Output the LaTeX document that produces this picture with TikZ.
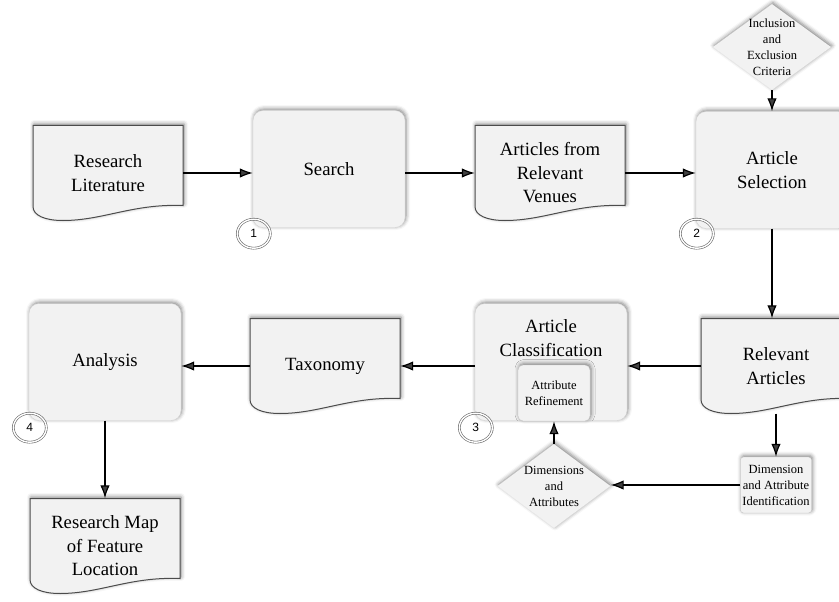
\documentclass[tikz,border=0pt]{standalone}
\usepackage{fontspec}
\setmainfont{Liberation Serif}
\setsansfont{Liberation Sans}
\usetikzlibrary{calc}
\usetikzlibrary{shapes.geometric}
\usetikzlibrary{shadows.blur}
\usetikzlibrary{arrows.meta}
\newcommand{\bigtext}{\fontsize{18.7}{23.5}\selectfont}
\newcommand{\smalltext}{\fontsize{12.5}{16}\selectfont}
\tikzstyle{softshadow}=[blur shadow={shadow xshift=1pt,shadow yshift=1.5pt,shadow blur radius=4pt,shadow opacity=50}]
\tikzstyle{process}=[rectangle, rounded corners=10pt, draw=gray!35, fill=gray!10, softshadow, minimum width=152pt, minimum height=117pt, inner sep=0pt, font=\bigtext, align=center]
\tikzstyle{doctext}=[minimum width=150pt, minimum height=95pt, inner sep=0pt, font=\bigtext, align=center]
\tikzstyle{docline}=[draw=black!70, line width=1pt, fill=gray!10, softshadow]
\tikzstyle{decision}=[diamond, fill=gray!10, softshadow, inner sep=0pt]
\tikzstyle{subtask}=[rectangle, rounded corners=5pt, draw=gray!45, fill=gray!10, softshadow, font=\smalltext, align=center, inner sep=0pt]
\tikzstyle{stepno}=[ellipse, draw=black!60, line width=0.6pt, double, double distance=1.4pt, minimum width=33pt, minimum height=29pt, inner sep=0pt, font=\sffamily\fontsize{12}{13}\selectfont]
\tikzstyle{flow}=[line width=1.2pt, -{Latex[length=13pt,width=9.5pt]}]
% document shape with a wavy bottom, then the named text node on top
\newcommand{\docnode}[4]{ % name, x, y, text
\filldraw[docline] (#2-75,#3-47.5) -- (#2+75,#3-47.5) -- (#2+75,#3+32.5)
  .. controls (#2+25,#3+30.5) and (#2-5,#3+47.5) .. (#2-45,#3+47.5)
  .. controls (#2-63,#3+47.5) and (#2-75,#3+42.5) .. (#2-75,#3+33.5) -- cycle;
\node[doctext] (#1) at (#2,#3) {#4};
}
\begin{document}
\begin{tikzpicture}[x=1pt, y=-1pt]
	\useasboundingbox (0,0) rectangle (839,602);
	% first row
	\docnode{reslit}{108}{173}{Research\\Literature}
	\node[process] (search) at (329,169) {Search};
	\docnode{venues}{550}{173}{Articles from\\Relevant\\Venues}
	\node[process] (asel) at (772,170) {Article\\Selection};
	\node[decision, minimum width=118pt, minimum height=86pt,
		label={[font=\smalltext, align=center]center:{Inclusion\\and\\Exclusion\\Criteria}}] (crit) at (772,47) {};
	% second row
	\docnode{relart}{776}{366}{Relevant\\Articles}
	\node[process] (aclass) at (551,362) {};
	\node[font=\bigtext, align=center] (aclasslbl) at (551,338) {Article\\Classification};
	\node[subtask, minimum width=72pt, minimum height=56pt] (attref) at (554,393) {Attribute\\Refinement};
	\docnode{taxo}{325}{366}{Taxonomy}
	\node[process] (anal) at (105,362) {Analysis};
	% third row
	\docnode{resmap}{105}{546}{Research Map\\of Feature\\Location}
	\node[decision, minimum width=113pt, minimum height=84pt,
		label={[font=\smalltext, align=center]center:{Dimensions\\and\\Attributes}}] (dimattr) at (554,486) {};
	\node[subtask, rounded corners=3pt, minimum width=71pt, minimum height=56pt] (ident) at (776,485) {Dimension\\and Attribute\\Identification};
	% step numbers
	\node[stepno] (s1) at ($(search.south west)+(1,6)$) {1};
	\node[stepno] (s2) at ($(asel.south west)+(1,5)$) {2};
	\node[stepno] (s3) at ($(aclass.south west)+(1,7)$) {3};
	\node[stepno] (s4) at ($(anal.south west)+(1,7)$) {4};
	% connectors
	\draw[flow] (reslit.east) -- (reslit.east -| search.west);
	\draw[flow] (search.east |- venues.west) -- (venues.west);
	\draw[flow] (venues.east) -- (venues.east -| asel.west);
	\draw[flow] (crit) -- (asel);
	\draw[flow] (asel.south) -- (asel.south |- relart.north);
	\draw[flow] (relart.west) -- (relart.west -| aclass.east);
	\draw[flow] (aclass.west |- taxo.east) -- (taxo.east);
	\draw[flow] (taxo.west) -- (taxo.west -| anal.east);
	\draw[flow] (anal) -- (resmap);
	\draw[flow] (relart) -- (ident);
	\draw[flow] (ident.west) -- (ident.west -| dimattr.east);
	\draw[flow] (dimattr) -- (attref);
\end{tikzpicture}
\end{document}
